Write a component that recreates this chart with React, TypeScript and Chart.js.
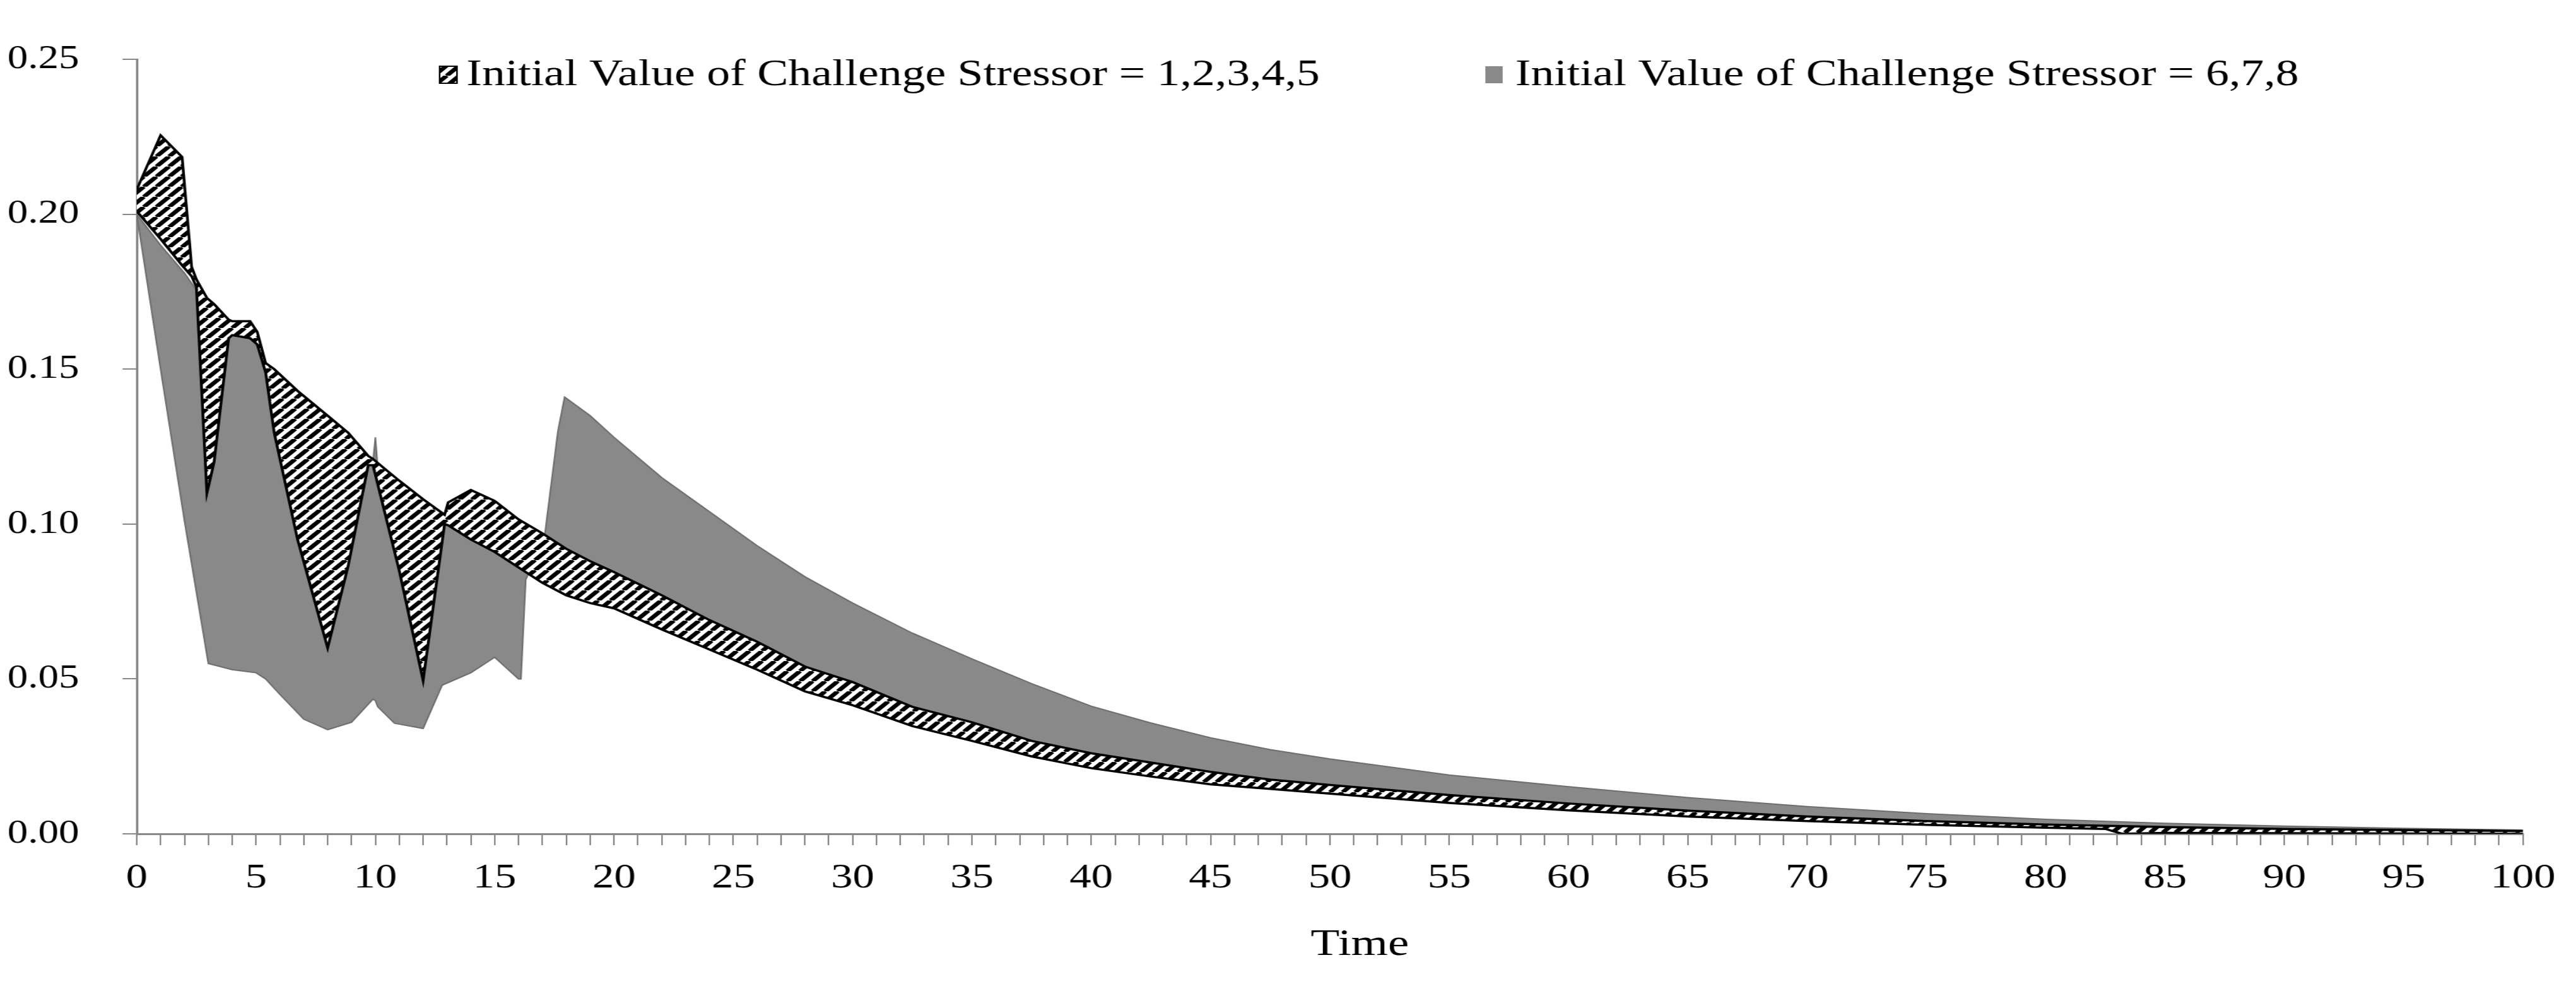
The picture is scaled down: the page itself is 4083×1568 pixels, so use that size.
import { useEffect, useRef } from "react";
import { Chart, registerables } from "chart.js";

Chart.register(...registerables);

// band for initial value 1..5 (hatched): upper and lower edge
const hatchedT = [0, 1, 1.9, 2.3, 2.5, 2.94, 3.24, 3.85, 4, 4.75, 5.05, 5.4, 5.76, 6.74, 8, 8.86, 9.7, 9.9, 11, 12, 12.9, 13.05, 14, 15, 16, 17, 18, 19, 20, 22, 24, 26, 28, 30, 32.5, 35, 37.5, 40, 42.5, 45, 47.5, 50, 55, 60, 65, 70, 75, 80, 82.5, 83.2, 85, 90, 95, 100];
const hatchedHi = [0.208, 0.2255, 0.2185, 0.183, 0.179, 0.173, 0.171, 0.166, 0.1655, 0.1655, 0.162, 0.152, 0.15, 0.143, 0.135, 0.1295, 0.122, 0.121, 0.114, 0.108, 0.103, 0.107, 0.111, 0.1075, 0.1015, 0.097, 0.092, 0.088, 0.0845, 0.077, 0.069, 0.062, 0.054, 0.049, 0.041, 0.036, 0.03, 0.026, 0.023, 0.02, 0.0175, 0.0158, 0.0125, 0.0098, 0.0075, 0.0056, 0.0041, 0.003, 0.0026, 0.0025, 0.0022, 0.0016, 0.0012, 0.0009];
const hatchedLo = [0.201, 0.192, 0.1835, 0.18, 0.1765, 0.11, 0.12, 0.16, 0.161, 0.16, 0.158, 0.149, 0.1295, 0.095, 0.06, 0.0865, 0.119, 0.119, 0.085, 0.0495, 0.1, 0.0996, 0.095, 0.091, 0.086, 0.081, 0.077, 0.0745, 0.0728, 0.066, 0.0595, 0.053, 0.046, 0.0415, 0.0348, 0.03, 0.025, 0.0212, 0.0185, 0.016, 0.0145, 0.013, 0.01, 0.0076, 0.0056, 0.0041, 0.0029, 0.002, 0.0016, 0, 0.0003, 0.0002, 0.0001, 0];

// band for initial value 6..8 (gray)
const grayT = [0, 1, 2, 3, 4, 5, 5.4, 6, 7, 8, 9, 9.9, 10, 10.1, 10.8, 12, 12.8, 14, 15, 16, 16.1, 16.3, 17.1, 17.65, 17.93, 19, 20, 22, 24, 26, 28, 30, 32.5, 35, 37.5, 40, 42.5, 45, 47.5, 50, 55, 60, 65, 70, 75, 80, 85, 90, 95, 100];
const grayHi = [0.2, 0.19, 0.181, 0.17, 0.163, 0.159, 0.15, 0.146, 0.139, 0.133, 0.127, 0.12, 0.128, 0.118, 0.113, 0.106, 0.101, 0.097, 0.093, 0.088, 0.088, 0.088, 0.0965, 0.13, 0.141, 0.135, 0.128, 0.115, 0.104, 0.093, 0.083, 0.0745, 0.0648, 0.0565, 0.0485, 0.0412, 0.0358, 0.031, 0.0272, 0.0242, 0.019, 0.0152, 0.0117, 0.0088, 0.0065, 0.0047, 0.0034, 0.0025, 0.0018, 0.0012];
const grayLo = [0.2, 0.15, 0.101, 0.055, 0.053, 0.052, 0.05, 0.045, 0.037, 0.0336, 0.036, 0.0435, 0.043, 0.041, 0.0357, 0.034, 0.048, 0.052, 0.057, 0.05, 0.05, 0.082, 0.0955, 0.093, 0.0915, 0.0875, 0.0841, 0.0766, 0.0686, 0.0616, 0.0536, 0.0486, 0.0406, 0.0356, 0.0296, 0.0256, 0.0226, 0.0196, 0.0171, 0.0154, 0.0121, 0.0094, 0.0071, 0.0052, 0.0037, 0.0026, 0.0018, 0.0012, 0.0008, 0.0005];

const legendLabels = [
  "Initial Value of Challenge Stressor = 1,2,3,4,5",
  "Initial Value of Challenge Stressor = 6,7,8",
];
const xTitle = "Time";

const SERIF = '"Liberation Serif", "Times New Roman", serif';
// the original picture is stretched sideways, so the canvas is too
const STRETCH = 1.25;
const W = 3254;
const H = 1552;
const GRAY = "#898989";

const makeHatch = (): CanvasPattern | string => {
  const p = 16;
  const c = document.createElement("canvas");
  c.width = p;
  c.height = p;
  const g = c.getContext("2d");
  if (!g) return "#000";
  g.fillStyle = "#fff";
  g.fillRect(0, 0, p, p);
  g.strokeStyle = "#000";
  g.lineWidth = 6;
  g.beginPath();
  for (const k of [-1, 0, 1]) {
    g.moveTo(k * p, p);
    g.lineTo(k * p + p, 0);
  }
  g.stroke();
  return g.createPattern(c, "repeat") ?? "#000";
};

const toPoints = (xs: number[], ys: number[]) => xs.map((x, i) => ({ x, y: ys[i] }));

const App = () => {
  const chartRef = useRef<HTMLCanvasElement | null>(null);

  useEffect(() => {
    if (!chartRef.current) return;
    const hatch = makeHatch();

    // legend inside the plot and the axis title, a bit right of centre as in the source
    const textPlugin = {
      id: "bandText",
      afterDraw(chart: Chart) {
        const ctx = chart.ctx;
        ctx.save();
        ctx.font = `59px ${SERIF}`;
        ctx.textBaseline = "middle";
        ctx.textAlign = "left";
        ctx.fillStyle = hatch;
        ctx.fillRect(551, 97, 22, 27);
        ctx.strokeStyle = "#000";
        ctx.lineWidth = 2;
        ctx.strokeRect(551, 97, 22, 27);
        ctx.fillStyle = "#000";
        ctx.fillText(legendLabels[0], 585, 111);
        ctx.fillStyle = GRAY;
        ctx.fillRect(1877, 97, 22, 27);
        ctx.fillStyle = "#000";
        ctx.fillText(legendLabels[1], 1915, 111);

        const xs = chart.scales.x;
        ctx.font = `60px ${SERIF}`;
        ctx.textAlign = "center";
        ctx.fillText(xTitle, xs.getPixelForValue(50) + 38, 1490);
        ctx.restore();
      },
    };

    const axisGrid = {
      drawOnChartArea: false,
      drawTicks: true,
      tickLength: 18,
      color: "#888",
      lineWidth: 2,
    };
    const axisBorder = { display: true, color: "#888", width: 3 };

    const chartInstance = new Chart(chartRef.current, {
      type: "line",
      data: {
        datasets: [
          {
            label: legendLabels[0],
            data: toPoints(hatchedT, hatchedHi),
            borderColor: "#000",
            borderWidth: 3.5,
            pointRadius: 0,
            tension: 0,
            fill: false,
          },
          {
            label: legendLabels[0] + " (low)",
            data: toPoints(hatchedT, hatchedLo),
            borderColor: "#000",
            borderWidth: 3.5,
            pointRadius: 0,
            tension: 0,
            fill: "-1",
            backgroundColor: hatch,
          },
          {
            label: legendLabels[1],
            data: toPoints(grayT, grayHi),
            borderColor: "#6e6e6e",
            borderWidth: 2,
            pointRadius: 0,
            tension: 0,
            fill: false,
          },
          {
            label: legendLabels[1] + " (low)",
            data: toPoints(grayT, grayLo),
            borderColor: "#6e6e6e",
            borderWidth: 2,
            pointRadius: 0,
            tension: 0,
            fill: "-1",
            backgroundColor: GRAY,
          },
        ],
      },
      options: {
        animation: false,
        responsive: true,
        maintainAspectRatio: false,
        layout: { padding: { top: 17, right: 41, left: 0, bottom: 0 } },
        plugins: {
          legend: { display: false },
          tooltip: { enabled: false },
        },
        scales: {
          x: {
            type: "linear",
            min: 0,
            max: 100,
            afterFit: (s) => {
              s.height = 238;
            },
            ticks: {
              stepSize: 1,
              autoSkip: false,
              maxRotation: 0,
              padding: 20,
              color: "#000",
              font: { family: SERIF, size: 55 },
              callback: (v) => (Number(v) % 5 === 0 ? String(v) : ""),
            },
            grid: axisGrid,
            border: axisBorder,
          },
          y: {
            min: 0,
            max: 0.25,
            afterFit: (s) => {
              s.width = 167;
            },
            ticks: {
              stepSize: 0.05,
              padding: 55,
              color: "#000",
              font: { family: SERIF, size: 52 },
              callback: (v) => Number(v).toFixed(2),
            },
            grid: axisGrid,
            border: axisBorder,
          },
        },
      },
      plugins: [textPlugin],
    });

    return () => {
      chartInstance.destroy();
    };
  }, []);

  return (
    <div
      style={{
        width: W,
        height: H,
        transform: `scaleX(${STRETCH})`,
        transformOrigin: "0 0",
      }}
    >
      <canvas ref={chartRef} />
    </div>
  );
};

export default App;
